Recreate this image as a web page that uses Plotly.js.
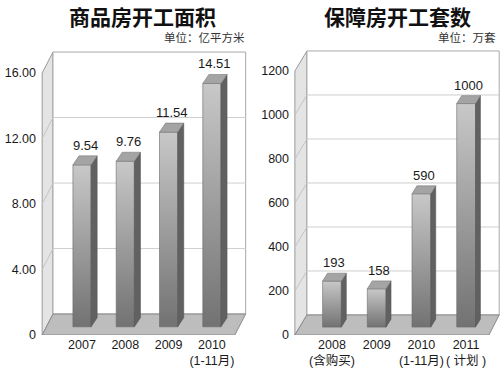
<!DOCTYPE html>
<html><head><meta charset="utf-8">
<script src="https://cdn.plot.ly/plotly-3.0.1.min.js"></script>
<style>html,body{margin:0;padding:0;background:#fff}#chart{width:500px;height:369px}</style>
</head><body><div id="chart"></div>
<script>
// ---- data ----
const title1 = '商品房开工面积';
const unit1 = '单位：亿平方米';
const cats1 = ['2007', '2008', '2009', '2010<br>(1-11月)'];
const vals1 = [9.54, 9.76, 11.54, 14.51];
const valText1 = ['9.54', '9.76', '11.54', '14.51'];
const yTicks1 = [0, 4, 8, 12, 16];
const yTickText1 = ['0', '4.00', '8.00', '12.00', '16.00'];

const title2 = '保障房开工套数';
const unit2 = '单位：万套';
const cats2 = ['2008<br>(含购买)', '2009', '2010<br>(1-11月)', '2011<br>( 计划 )'];
const vals2 = [193, 158, 590, 1000];
const valText2 = ['193', '158', '590', '1000'];
const yTicks2 = [0, 200, 400, 600, 800, 1000, 1200];
const yTickText2 = ['0', '200', '400', '600', '800', '1000', '1200'];

// ---- styling / 3D geometry (not data) ----
const FONT = 'Liberation Sans, Arial, Noto Sans CJK SC, sans-serif';
const CJK = 'Noto Sans CJK SC, sans-serif';
const g1 = {xa:'x', ya:'y', xFront:-0.92, xFrontR:3.53, xBack:-0.67, xBackR:3.78, wallDY:1.28,
  top:16, halfW:0.21, dx:0.14, dy:0.55, base:0.5, lift:0.85, xr:[-0.97, 3.811], yr:[0, 17.466]};
const g2 = {xa:'x2', ya:'y2', xFront:-0.83, xFrontR:3.51, xBack:-0.56, xBackR:3.74, wallDY:91,
  top:1200, halfW:0.21, dx:0.11, dy:36, base:36, lift:52, xr:[-0.872, 3.758], yr:[0, 1300]};

const traces = [];
const shapes = [];
const annotations = [];

function panel(vals, yTicks, valText, g) {
  const xref = g.xa, yref = g.ya;
  const yMax = g.top + g.wallDY;
  // left wall
  shapes.push({type:'path', xref, yref, layer:'below',
    path:`M${g.xFront},0 L${g.xBack},${g.wallDY} L${g.xBack},${yMax} L${g.xFront},${g.top} Z`,
    fillcolor:'#e4e4e4', line:{color:'#9a9a9a', width:1}});
  // back wall
  shapes.push({type:'rect', xref, yref, layer:'below', x0:g.xBack, x1:g.xBackR, y0:g.wallDY, y1:yMax,
    fillcolor:'#ffffff', line:{color:'#a8a8a8', width:1}});
  // gridlines
  yTicks.forEach(t => {
    if (t === 0 || t === g.top) return;
    shapes.push({type:'line', xref, yref, layer:'below', x0:g.xBack, x1:g.xBackR, y0:t + g.wallDY, y1:t + g.wallDY,
      line:{color:'#cfcfcf', width:1}});
    shapes.push({type:'line', xref, yref, layer:'below', x0:g.xFront, x1:g.xBack, y0:t, y1:t + g.wallDY,
      line:{color:'#c4c4c4', width:1}});
  });
  // floor
  shapes.push({type:'path', xref, yref, layer:'below',
    path:`M${g.xFront},0 L${g.xFrontR},0 L${g.xBackR},${g.wallDY} L${g.xBack},${g.wallDY} Z`,
    fillcolor:'#bdbdbd', line:{color:'#8a8a8a', width:1}});

  const sideX = [], sideY = [], topX = [], topY = [];
  vals.forEach((v, i) => {
    const b = g.base, t = v + g.lift;
    const l = i - g.halfW, r = i + g.halfW;
    traces.push({type:'scatter', xaxis:g.xa, yaxis:g.ya, mode:'lines', fill:'toself',
      x:[l, r, r, l, l], y:[b, b, t, t, b],
      fillgradient:{type:'vertical', colorscale:[[0, '#727272'], [1, '#c8c8c8']]},
      line:{color:'#6a6a6a', width:0.6}, hoverinfo:'skip', showlegend:false});
    sideX.push(r, r + g.dx, r + g.dx, r, r, null);
    sideY.push(b, b + g.dy, t + g.dy, t, b, null);
    topX.push(l, r, r + g.dx, l + g.dx, l, null);
    topY.push(t, t, t + g.dy, t + g.dy, t, null);
    annotations.push({xref:g.xa, yref:g.ya, x:i + g.dx / 2, y:t + g.dy, text:valText[i],
      showarrow:false, yanchor:'bottom', yshift:1, font:{family:FONT, size:13, color:'#1a1a1a'}});
  });
  traces.push({type:'scatter', xaxis:g.xa, yaxis:g.ya, mode:'lines', fill:'toself', x:sideX, y:sideY,
    fillcolor:'#616161', line:{color:'#555', width:0.6}, hoverinfo:'skip', showlegend:false});
  traces.push({type:'scatter', xaxis:g.xa, yaxis:g.ya, mode:'lines', fill:'toself', x:topX, y:topY,
    fillcolor:'#a4a4a4', line:{color:'#7a7a7a', width:0.6}, hoverinfo:'skip', showlegend:false});
}

panel(vals1, yTicks1, valText1, g1);
panel(vals2, yTicks2, valText2, g2);

const W = 500, H = 369;
const yDom = [(H - 335) / H, (H - 49) / H];
const axX = (dom, range, cats) => ({domain:dom, range, tickvals:cats.map((c, i) => i), ticktext:cats,
  showgrid:false, zeroline:false, showline:false, ticks:'', fixedrange:true,
  tickfont:{family:FONT, size:12.5, color:'#1a1a1a'}});
const axY = (range, tv, tt, anchor) => ({domain:yDom, range, tickvals:tv, ticktext:tt, anchor,
  showgrid:false, zeroline:false, showline:false, ticks:'', fixedrange:true, ticklabelstandoff:3,
  tickfont:{family:FONT, size:12.5, color:'#1a1a1a'}});

const xa1 = axX([40 / W, 247 / W], g1.xr, cats1); xa1.anchor = 'y';
const xa2 = axX([293 / W, 500 / W], g2.xr, cats2); xa2.anchor = 'y2';

annotations.push({xref:'paper', yref:'paper', x:142 / W, y:1 - 16 / H, text:'<b>' + title1 + '</b>',
  showarrow:false, xanchor:'center', yanchor:'middle', font:{family:CJK, size:21, color:'#111'}});
annotations.push({xref:'paper', yref:'paper', x:397 / W, y:1 - 16 / H, text:'<b>' + title2 + '</b>',
  showarrow:false, xanchor:'center', yanchor:'middle', font:{family:CJK, size:21, color:'#111'}});
annotations.push({xref:'paper', yref:'paper', x:247 / W, y:1 - 37 / H, text:unit1,
  showarrow:false, xanchor:'right', yanchor:'middle', font:{family:CJK, size:11.5, color:'#333'}});
annotations.push({xref:'paper', yref:'paper', x:498 / W, y:1 - 37 / H, text:unit2,
  showarrow:false, xanchor:'right', yanchor:'middle', font:{family:CJK, size:11.5, color:'#333'}});

const layout = {
  width:W, height:H, margin:{l:0, r:0, t:0, b:0},
  paper_bgcolor:'#fff', plot_bgcolor:'rgba(0,0,0,0)', showlegend:false,
  xaxis:xa1, yaxis:axY(g1.yr, yTicks1, yTickText1, 'x'),
  xaxis2:xa2, yaxis2:axY(g2.yr, yTicks2, yTickText2, 'x2'),
  shapes, annotations
};
Plotly.newPlot('chart', traces, layout, {staticPlot:true, displayModeBar:false});
</script>
</body></html>
